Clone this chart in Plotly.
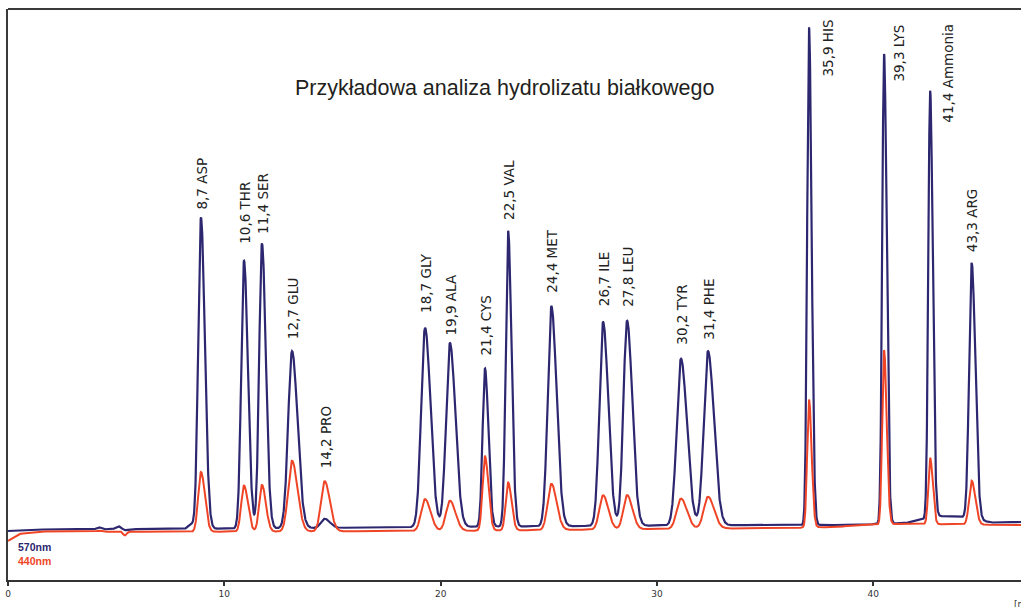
import numpy as np
import plotly.graph_objects as go

# ---- data ----
amino_labels = ["8,7 ASP", "10,6 THR", "11,4 SER", "12,7 GLU", "14,2 PRO", "18,7 GLY",
                "19,9 ALA", "21,4 CYS", "22,5 VAL", "24,4 MET", "26,7 ILE", "27,8 LEU",
                "30,2 TYR", "31,4 PHE", "35,9 HIS", "39,3 LYS", "41,4 Ammonia", "43,3 ARG"]
peak_time = [8.92, 10.91, 11.74, 13.13, 14.64, 19.28, 20.43, 22.05, 23.12, 25.12,
             27.51, 28.62, 31.11, 32.36, 37.03, 40.50, 42.63, 44.55]
height_570 = [54.5, 46.9, 49.9, 31.0, 1.6, 34.9, 32.2, 27.7, 51.8, 38.5,
              35.7, 35.9, 29.2, 30.5, 87.2, 82.3, 74.8, 44.8]
height_440 = [10.5, 8.1, 8.2, 12.4, 8.8, 5.6, 5.3, 13.0, 8.4, 8.1,
              6.0, 6.0, 5.3, 5.6, 22.4, 30.5, 11.6, 7.7]
peak_sigma = [0.15, 0.15, 0.15, 0.21, 0.2, 0.21, 0.21, 0.13, 0.13, 0.2,
              0.2, 0.2, 0.23, 0.23, 0.1, 0.1, 0.1, 0.14]

# small baseline disturbances (time, 570nm, 440nm, sigma)
minor_time = [4.2, 5.1, 5.4, 8.45]
minor_570 = [0.35, 0.5, -0.2, 0.8]
minor_440 = [0.2, 0.1, -0.65, 0.0]
minor_sigma = [0.1, 0.12, 0.08, 0.12]

# baseline drift knots
base_time_570 = [0.0, 1.0, 8.0, 20.0, 30.0, 36.0, 39.0, 41.5, 43.0, 44.0, 45.5, 46.83]
base_val_570 = [8.58, 8.84, 8.93, 9.28, 9.54, 9.63, 9.63, 9.98, 11.2, 11.1, 10.07, 10.16]
base_time_440 = [0.0, 0.5, 1.5, 8.0, 20.0, 30.0, 36.0, 38.0, 41.0, 46.83]
base_val_440 = [6.83, 8.06, 8.49, 8.41, 8.58, 8.93, 9.11, 9.28, 9.81, 9.63]

x_ticks = [0, 10, 20, 30, 40]
x_max = 46.83

# label gaps above peak top (pixels)
label_gap = [6, 15, 8, 10, 11, 13, 6, 11, 9, 12, 14, 12, 12, 10, 0, 0, 0, 9]

COL570 = "#2d2770"
COL440 = "#ef4526"

t = np.linspace(0, x_max, 6000)


def signal(heights, minors, bt, bv):
    y = np.interp(t, bt, bv)
    for tp, h, s in zip(peak_time, heights, peak_sigma):
        sl, sr = s * 0.85, s * 1.2
        ss = np.where(t < tp, sl, sr)
        y = y + h * np.exp(-0.5 * ((t - tp) / ss) ** 2)
    for tp, h, s in zip(minor_time, minors, minor_sigma):
        y = y + h * np.exp(-0.5 * ((t - tp) / s) ** 2)
    return y


y570 = signal(height_570, minor_570, base_time_570, base_val_570)
y440 = signal(height_440, minor_440, base_time_440, base_val_440)

fig = go.Figure()
fig.add_trace(go.Scatter(x=t, y=y570, mode="lines", line=dict(color=COL570, width=2.2),
                         hoverinfo="skip", showlegend=False))
fig.add_trace(go.Scatter(x=t, y=y440, mode="lines", line=dict(color=COL440, width=2),
                         hoverinfo="skip", showlegend=False))

label_font = dict(family="DejaVu Sans", size=13.5, color="#222222")
ann = []
for i, lab in enumerate(amino_labels):
    tp = peak_time[i]
    name = lab.split()[-1]
    if name in ("HIS", "LYS", "Ammonia"):
        shift = {"HIS": 18, "LYS": 14, "Ammonia": 17}[name]
        top = {"HIS": 18, "LYS": 23, "Ammonia": 22}[name]
        ann.append(dict(x=tp, y=1, xref="x", yref="paper", text=lab, showarrow=False,
                        textangle=-90, xanchor="center", yanchor="top",
                        xshift=shift, yshift=-(top - 9), font=label_font))
    else:
        base = np.interp(tp, base_time_570, base_val_570)
        top_val = base + height_570[i]
        if name == "PRO":
            top_val = np.interp(tp, base_time_440, base_val_440) + height_440[i]
        ann.append(dict(x=tp, y=top_val, xref="x", yref="y", text=lab, showarrow=False,
                        textangle=-90, xanchor="center", yanchor="bottom",
                        xshift=1, yshift=label_gap[i], font=label_font))

ann.append(dict(x=501 / 1021, y=(580 - 88) / 571, xref="paper", yref="paper",
                text="Przykładowa analiza hydrolizatu białkowego", showarrow=False,
                xanchor="center", yanchor="middle",
                font=dict(family="Liberation Sans", size=21.5, color="#231f20")))
ann.append(dict(x=0.35, y=0, xref="x", yref="paper", text="<b>570nm</b>", showarrow=False,
                xanchor="left", yanchor="middle", yshift=33,
                font=dict(family="Liberation Sans", size=10.5, color=COL570)))
ann.append(dict(x=0.35, y=0, xref="x", yref="paper", text="<b>440nm</b>", showarrow=False,
                xanchor="left", yanchor="middle", yshift=19,
                font=dict(family="Liberation Sans", size=10.5, color=COL440)))
ann.append(dict(x=x_max, y=0, xref="x", yref="paper", text="[min]", showarrow=False,
                xanchor="left", yanchor="top", xshift=-9, yshift=-17,
                font=dict(family="DejaVu Sans", size=9, color="#333333")))

fig.update_layout(
    width=1021, height=607,
    margin=dict(l=8, r=0, t=9, b=27),
    paper_bgcolor="white", plot_bgcolor="white",
    annotations=ann,
    shapes=[dict(type="line", xref="paper", yref="paper", x0=0, x1=1, y0=1, y1=1,
                 line=dict(color="#3a3a3a", width=2))],
    xaxis=dict(range=[0, x_max], tickvals=x_ticks, ticktext=[str(v) for v in x_ticks],
               showgrid=False, zeroline=False, showline=True, linecolor="#333333", linewidth=2,
               ticks="outside", ticklen=4, tickwidth=1.5, tickcolor="#333333",
               tickfont=dict(family="DejaVu Sans", size=9, color="#333333")),
    yaxis=dict(range=[0, 100], showgrid=False, zeroline=False, showline=True,
               linecolor="#3a3a3a", linewidth=2, showticklabels=False, ticks=""),
)

fig.write_html("out.html", config={"displayModeBar": False},
               post_script="document.body.style.margin='0';document.body.style.overflow='hidden';")
